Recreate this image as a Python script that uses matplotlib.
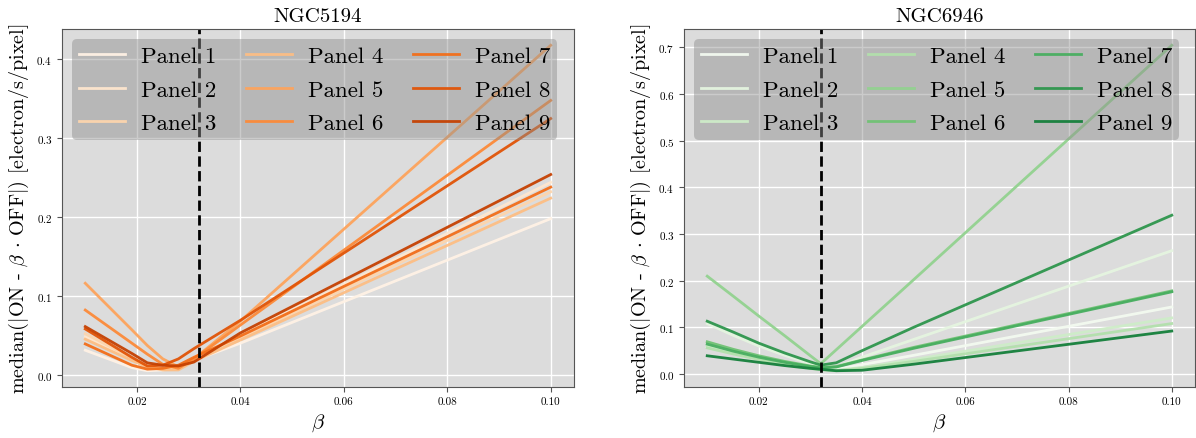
import numpy as np
import matplotlib
matplotlib.use("Agg")
import matplotlib.pyplot as plt

plt.rcParams['font.family'] = ['cmr10', 'DejaVu Serif']
plt.rcParams['mathtext.fontset'] = 'cm'
plt.rcParams['axes.formatter.use_mathtext'] = True
plt.rcParams['axes.unicode_minus'] = False

# ---- data ----
panels = [f"Panel {i}" for i in range(1, 10)]
beta_cut = 0.032

beta_5194 = [0.010, 0.019, 0.022, 0.025, 0.028, 0.031, 0.040, 0.100]
ngc5194 = [
    [0.031, 0.009, 0.005, 0.006, 0.010, 0.018, 0.040, 0.198],
    [0.048, 0.020, 0.011, 0.006, 0.008, 0.022, 0.050, 0.244],
    [0.052, 0.021, 0.011, 0.007, 0.010, 0.020, 0.047, 0.232],
    [0.045, 0.018, 0.010, 0.006, 0.006, 0.017, 0.044, 0.224],
    [0.116, 0.057, 0.037, 0.020, 0.010, 0.020, 0.068, 0.418],
    [0.082, 0.040, 0.026, 0.013, 0.008, 0.020, 0.063, 0.348],
    [0.039, 0.012, 0.007, 0.008, 0.012, 0.022, 0.049, 0.238],
    [0.058, 0.022, 0.011, 0.012, 0.020, 0.033, 0.069, 0.325],
    [0.061, 0.027, 0.015, 0.012, 0.011, 0.016, 0.053, 0.254],
]

beta_6946 = [0.010, 0.015, 0.020, 0.025, 0.030, 0.032, 0.035, 0.040, 0.050, 0.100]
ngc6946 = [
    [0.058, 0.044, 0.032, 0.021, 0.012, 0.010, 0.010, 0.020, 0.040, 0.1435],
    [0.108, 0.083, 0.060, 0.040, 0.022, 0.016, 0.015, 0.036, 0.074, 0.264],
    [0.060, 0.046, 0.033, 0.022, 0.013, 0.010, 0.008, 0.014, 0.031, 0.120],
    [0.056, 0.043, 0.031, 0.020, 0.012, 0.009, 0.007, 0.012, 0.027, 0.108],
    [0.2095, 0.167, 0.124, 0.082, 0.039, 0.022, 0.052, 0.102, 0.202, 0.704],
    [0.069, 0.053, 0.039, 0.027, 0.017, 0.014, 0.016, 0.030, 0.057, 0.178],
    [0.064, 0.049, 0.036, 0.025, 0.016, 0.013, 0.015, 0.029, 0.055, 0.176],
    [0.113, 0.090, 0.066, 0.045, 0.026, 0.019, 0.024, 0.050, 0.100, 0.340],
    [0.039, 0.032, 0.025, 0.018, 0.012, 0.010, 0.007, 0.008, 0.021, 0.092],
]

galaxies = [("NGC5194", beta_5194, ngc5194, plt.cm.Oranges),
            ("NGC6946", beta_6946, ngc6946, plt.cm.Greens)]

fig = plt.figure(figsize=(11.96, 4.39), dpi=100)
W, H = 1196, 439
axes = [fig.add_axes([62 / W, 51 / H, 512 / W, 358 / H]),
        fig.add_axes([684 / W, 51 / H, 511 / W, 358 / H])]

for ax, (name, beta, vals, cmap) in zip(axes, galaxies):
    ax.set_facecolor('#dcdcdc')
    ax.grid(True, color='white', lw=1.0)
    ax.set_axisbelow(True)
    for s in ax.spines.values():
        s.set_color('#555555')
    ax.tick_params(labelsize=8, color='#555555', length=3.5)

    colors = cmap(np.linspace(0.03, 0.8, len(panels)))
    for lab, v, c in zip(panels, vals, colors):
        ax.plot(beta, v, color=c, lw=2, alpha=0.95, label=lab)
    ax.axvline(beta_cut, color='black', ls='--', lw=2)

    ax.set_title(name, fontsize=15)
    ax.set_xlabel(r'$\beta$', fontsize=15)
    ax.set_ylabel(r'median($|$ON - $\beta$ $\cdot$ OFF$|$) [electron/s/pixel]',
                  fontsize=14.5)
    ax.set_xticks([0.02, 0.04, 0.06, 0.08, 0.10])
    ax.set_xticklabels(['0.02', '0.04', '0.06', '0.08', '0.10'])

    leg = ax.legend(ncol=3, loc='upper left', fontsize=16.5, frameon=True,
                    facecolor='#8c8c8c', framealpha=0.45, edgecolor='none',
                    handlelength=2.0, handletextpad=0.7, columnspacing=1.3,
                    borderaxespad=0.45, labelspacing=0.58, borderpad=0.3)

fig.savefig("out.png", dpi=100)
